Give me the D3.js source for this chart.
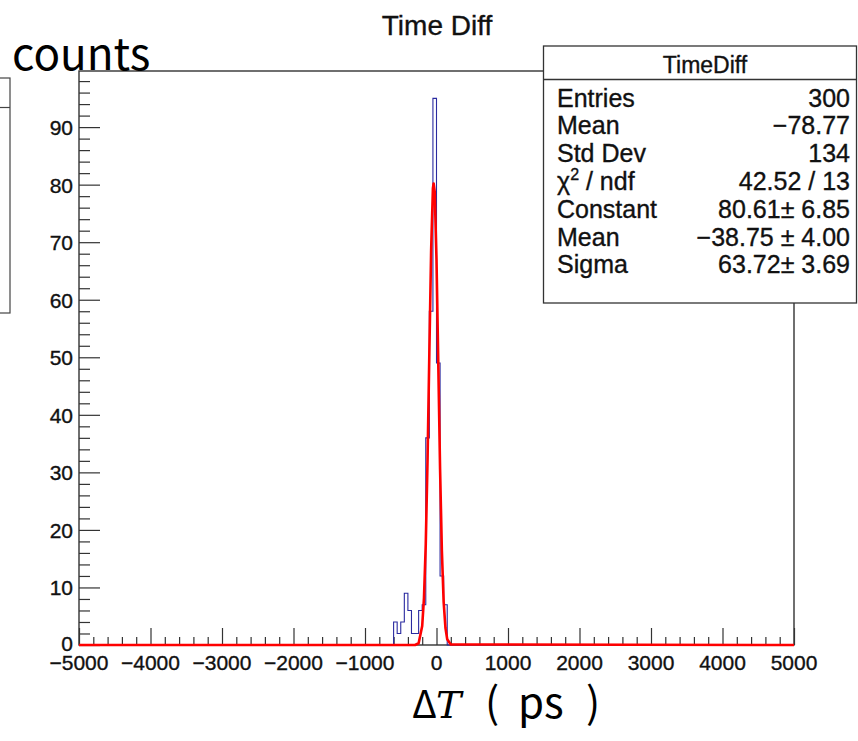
<!DOCTYPE html>
<html>
<head>
<meta charset="utf-8">
<script src="https://cdn.jsdelivr.net/npm/d3@7"></script>
<style>
    body { margin: 0; background: #fff; }
    svg { display: block; }
    .root-text { fill: #111; stroke: #111; stroke-width: 0.35px; }
</style>
</head>
<body>
<div id="graph"></div>
<script>
"use strict";

// histogram: 200 bins of 50 ps from -5000 to 5000, only non-empty ones listed
const binWidth = 50;
const binStarts = [-600, -550, -500, -450, -400, -350, -300, -250, -200, -150, -100, -50, 0, 50, 100];
const binCounts = [4, 2, 4, 9, 6, 2, 2, 6, 7, 36, 58, 95, 49, 12, 7];

// gaussian fit curve
const fitX = [-5000, -300, -250, -200, -175, -150, -125, -100, -75, -50, -40, -25, 0, 25, 50, 75, 100, 125, 150, 200, 5000];
const fitY = [0, 0, 0.3, 3.3, 8.2, 17.6, 32.3, 50.8, 68.6, 79.4, 80.2, 78.8, 67.0, 48.9, 30.6, 16.4, 7.5, 3.0, 1.0, 0.1, 0];

const xTicks = [-5000, -4000, -3000, -2000, -1000, 0, 1000, 2000, 3000, 4000, 5000];
const yTicks = [0, 10, 20, 30, 40, 50, 60, 70, 80, 90];

const statsTitle = "TimeDiff";
const statNames = ["Entries", "Mean", "Std Dev", "chi2", "Constant", "Mean", "Sigma"];
const statValues = ["300", "\u221278.77", "134", "42.52 / 13", "80.61\u00b1 6.85", "\u221238.75 \u00b1 4.00", "63.72\u00b1 3.69"];

const width = 858, height = 741;
const frame = { left: 79, right: 794, top: 71, bottom: 645 };
const font = "'Liberation Sans', Arial, Helvetica, sans-serif";
const cjkFont = "'Noto Sans CJK SC', 'Noto Sans', sans-serif";

const svg = d3.select("#graph").append("svg")
    .attr("width", width)
    .attr("height", height);

const xScale = d3.scaleLinear()
    .domain([-5000, 5000])
    .range([frame.left, frame.right]);

const yScale = d3.scaleLinear()
    .domain([0, 99.75])
    .range([frame.bottom, frame.top]);

// cut-off box on the far left
svg.append("rect")
    .attr("x", -20).attr("y", 78)
    .attr("width", 30).attr("height", 235)
    .attr("fill", "#fff").attr("stroke", "#444").attr("stroke-width", 1.2);
svg.append("line")
    .attr("x1", 0).attr("x2", 10).attr("y1", 107.5).attr("y2", 107.5)
    .attr("stroke", "#444").attr("stroke-width", 1.2);

// frame
svg.append("rect")
    .attr("x", frame.left).attr("y", frame.top)
    .attr("width", frame.right - frame.left)
    .attr("height", frame.bottom - frame.top)
    .attr("fill", "none")
    .attr("stroke", "#333")
    .attr("stroke-width", 1.4);

// x axis
const xAxis = d3.axisBottom(xScale)
    .tickValues(d3.range(-5000, 5001, 200))
    .tickSize(0)
    .tickFormat("");
const gx = svg.append("g").attr("transform", "translate(0," + frame.bottom + ")");
gx.call(xAxis);
gx.select(".domain").remove();
gx.selectAll(".tick line")
    .attr("y1", 0)
    .attr("y2", d => d % 1000 === 0 ? -17 : -8)
    .attr("stroke", "#333")
    .attr("stroke-width", 1.2);

svg.selectAll(".xlab")
    .data(xTicks)
    .enter()
    .append("text")
        .attr("class", "xlab root-text")
        .attr("x", d => xScale(d))
        .attr("y", frame.bottom + 25)
        .attr("text-anchor", "middle")
        .style("font-family", font)
        .style("font-size", "21px")
        .text(d => d < 0 ? "\u2212" + Math.abs(d) : d);

// y axis
const yAxis = d3.axisLeft(yScale)
    .tickValues(d3.range(0, 99, 2))
    .tickSize(0)
    .tickFormat("");
const gy = svg.append("g").attr("transform", "translate(" + frame.left + ",0)");
gy.call(yAxis);
gy.select(".domain").remove();
gy.selectAll(".tick line")
    .attr("x1", 0)
    .attr("x2", d => d % 10 === 0 ? 21 : 11)
    .attr("stroke", "#333")
    .attr("stroke-width", 1.2);

svg.selectAll(".ylab")
    .data(yTicks)
    .enter()
    .append("text")
        .attr("class", "ylab root-text")
        .attr("x", frame.left - 6)
        .attr("y", d => yScale(d) + (d === 0 ? 6 : 8))
        .attr("text-anchor", "end")
        .style("font-family", font)
        .style("font-size", "21px")
        .text(d => d);

// histogram as a step line
let steps = [[-5000, 0]];
binStarts.forEach((b, i) => {
    steps.push([b, i === 0 ? 0 : binCounts[i - 1]]);
    steps.push([b, binCounts[i]]);
});
const lastEdge = binStarts[binStarts.length - 1] + binWidth;
steps.push([lastEdge, binCounts[binCounts.length - 1]]);
steps.push([lastEdge, 0]);
steps.push([5000, 0]);

const stepLine = d3.line()
    .x(d => xScale(d[0]))
    .y(d => yScale(d[1]));

svg.append("path")
    .datum(steps)
    .attr("d", stepLine)
    .attr("fill", "none")
    .attr("stroke", "#2a2aa0")
    .attr("stroke-width", 1.1);

// fit
const fitLine = d3.line()
    .x((d, i) => xScale(fitX[i]))
    .y(d => yScale(d));

svg.append("path")
    .datum(fitY)
    .attr("d", fitLine)
    .attr("fill", "none")
    .attr("stroke", "#f00")
    .attr("stroke-width", 2.6)
    .attr("stroke-linejoin", "round");

// stats box
const box = { x: 543.5, y: 46, w: 313, h: 257 };
svg.append("rect")
    .attr("x", box.x).attr("y", box.y)
    .attr("width", box.w).attr("height", box.h)
    .attr("fill", "#fff")
    .attr("stroke", "#333")
    .attr("stroke-width", 1.3);
svg.append("line")
    .attr("x1", box.x).attr("x2", box.x + box.w)
    .attr("y1", 79.5).attr("y2", 79.5)
    .attr("stroke", "#333")
    .attr("stroke-width", 1.3);
svg.append("text")
    .attr("class", "root-text")
    .attr("x", 705).attr("y", 73)
    .attr("text-anchor", "middle")
    .style("font-family", font)
    .style("font-size", "23px")
    .text(statsTitle);

statNames.forEach((name, i) => {
    let y = 106.5 + i * 27.8;
    let t = svg.append("text")
        .attr("class", "root-text")
        .attr("x", 557).attr("y", y)
        .style("font-family", font)
        .style("font-size", "25px");
    if (name === "chi2") {
        t.append("tspan").text("\u03c7");
        t.append("tspan").attr("dy", -10).style("font-size", "16px").text("2");
        t.append("tspan").attr("dy", 10).text(" / ndf");
    } else {
        t.text(name);
    }
    svg.append("text")
        .attr("class", "root-text")
        .attr("x", 850).attr("y", y)
        .attr("text-anchor", "end")
        .style("font-family", font)
        .style("font-size", "25px")
        .text(statValues[i]);
});

// titles
svg.append("text")
    .attr("class", "root-text")
    .attr("x", 437).attr("y", 35)
    .attr("text-anchor", "middle")
    .style("font-family", font)
    .style("font-size", "28px")
    .text("Time Diff");

svg.append("text")
    .attr("x", 12).attr("y", 70)
    .style("font-family", cjkFont)
    .style("font-size", "44px")
    .text("counts");

// x title: "ΔT ( ps )"
const xt = svg.append("text")
    .attr("y", 718)
    .style("font-family", cjkFont)
    .style("font-size", "42px");
xt.append("tspan").attr("x", 412).style("font-size", "38px").text("\u0394");
xt.append("tspan")
    .attr("x", 436)
    .style("font-size", "38px")
    .style("font-family", "'DejaVu Serif', 'Liberation Serif', serif")
    .style("font-style", "italic")
    .text("T");
xt.append("tspan").attr("x", 485).text("(");
xt.append("tspan").attr("x", 518).text("ps");
xt.append("tspan").attr("x", 586).text(")");
</script>
</body>
</html>
